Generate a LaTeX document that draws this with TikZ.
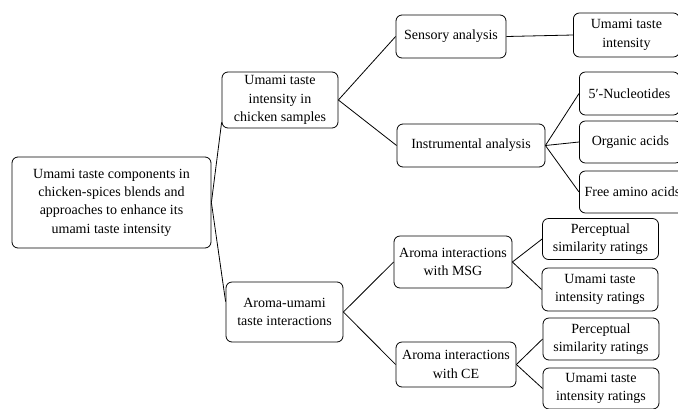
\documentclass[tikz,border=0pt]{standalone}
\usepackage{fontspec}
\setmainfont{Liberation Serif}
\usetikzlibrary{positioning}

\begin{document}
\begin{tikzpicture}[x=1pt,y=-1pt,line width=0.8pt,main node/.style={rectangle,rounded corners=6pt,draw,align=center,inner sep=0pt,font=\fontsize{14}{18.3}\selectfont},leaf node/.style={main node,minimum width=116pt,minimum height=42pt}]
\useasboundingbox (0,0) rectangle (678,408);

\node[main node,minimum width=199pt,minimum height=91pt] (root) at (111.5,202.5) {Umami taste components in\\chicken-spices blends and\\approaches to enhance its\\umami taste intensity};

\node[main node,minimum width=116pt,minimum height=56pt] (chicken) at (280,100) {Umami taste\\intensity in\\chicken samples};
\node[main node,minimum width=117pt,minimum height=60pt] (aroma) at (284.5,312) {Aroma-umami\\taste interactions};

\node[main node,minimum width=110pt,minimum height=43pt] (sensory) at (451,36.5) {Sensory analysis};
\node[main node,minimum width=148pt,minimum height=43pt] (instr) at (471,145.5) {Instrumental analysis};
\node[main node,minimum width=118pt,minimum height=52pt] (msg) at (453,262) {Aroma interactions\\with MSG};
\node[main node,minimum width=120pt,minimum height=45pt] (ce) at (456,364.5) {Aroma interactions\\with CE};

\node[main node,anchor=west,minimum width=106pt,minimum height=44pt] (intensity) at (573,35) {Umami taste\\intensity};
\node[main node,anchor=west,minimum width=100pt,minimum height=43pt] (nucl) at (579,93.5) {5′-Nucleotides};
\node[main node,anchor=west,minimum width=102pt,minimum height=42pt] (organic) at (579,142) {Organic acids};
\node[main node,anchor=west,minimum width=106pt,minimum height=42pt] (amino) at (579,192) {Free amino acids};

\node[leaf node,minimum height=41pt] (simmsg) at (600.5,239) {Perceptual\\similarity ratings};
\node[leaf node,minimum height=43pt] (ratmsg) at (600,289.5) {Umami taste\\intensity ratings};
\node[leaf node] (simce) at (601,339) {Perceptual\\similarity ratings};
\node[leaf node,minimum height=41pt] (ratce) at (601,388.5) {Umami taste\\intensity ratings};

\draw (root.east) -- (chicken.201);
\draw (root.east) -- (aroma.170);
\draw (chicken.east) -- (sensory.west);
\draw (chicken.east) -- (instr.west);
\draw (sensory.east) -- (intensity.west);
\draw (instr.east) -- (nucl.west);
\draw (instr.east) -- (organic.west);
\draw (instr.east) -- (amino.west);
\draw (aroma.east) -- (msg.west);
\draw (aroma.east) -- (ce.west);
\draw (msg.east) -- (simmsg.west);
\draw (msg.east) -- (ratmsg.west);
\draw (ce.east) -- (simce.west);
\draw (ce.east) -- (ratce.west);
\end{tikzpicture}
\end{document}
